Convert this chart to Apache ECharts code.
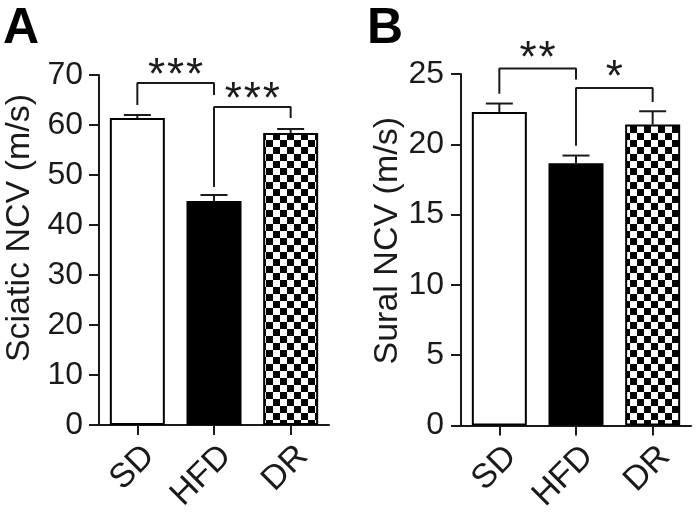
<!DOCTYPE html>
<html><head><meta charset="utf-8">
<script src="https://cdn.jsdelivr.net/npm/echarts@6/dist/echarts.min.js"></script>
<style>html,body{margin:0;padding:0;background:#fff}#c{width:697px;height:526px}</style>
</head><body><div id="c"></div>
<script>
const categories = ['SD', 'HFD', 'DR'];
const sciaticMean = [61.4, 44.8, 58.4];
const sciaticSEM = [0.6, 1.2, 0.8];
const suralMean = [22.3, 18.65, 21.4];
const suralSEM = [0.6, 0.55, 0.95];
const sciaticTicks = [0, 10, 20, 30, 40, 50, 60, 70];
const suralTicks = [0, 5, 10, 15, 20, 25];
// [fromIndex, toIndex, bracketTop, leftLegBottom, rightLegBottom, stars]
const sciaticSig = [[0, 1, 68.4, 64.0, 66.0, '***'], [1, 2, 63.6, 47.6, 61.4, '***']];
const suralSig = [[0, 1, 25.4, 23.6, 24.6, '**'], [1, 2, 24.0, 19.9, 23.0, '*']];
const panelLetters = ['A', 'B'];
const yNames = ['Sciatic NCV (m/s)', 'Sural NCV (m/s)'];

const FONT = 'Liberation Sans, Arial, Helvetica, sans-serif';
const INK = '#1a1a1a';

// checkerboard pattern
const pc = document.createElement('canvas');
const cell = 7;
pc.width = cell * 2; pc.height = cell * 2;
const pctx = pc.getContext('2d');
pctx.fillStyle = '#fff'; pctx.fillRect(0, 0, pc.width, pc.height);
pctx.fillStyle = '#000';
pctx.fillRect(0, 0, cell, cell);
pctx.fillRect(cell, cell, cell, cell);
const checker = { image: pc, repeat: 'repeat' };
const barFills = ['#ffffff', '#000000', checker];

const chart = echarts.init(document.getElementById('c'), null, { renderer: 'canvas' });

function yAxisOf(idx, ticks, name, nameGap, margin, shiftUp) {
  return {
    type: 'value', gridIndex: idx, min: ticks[0], max: ticks[ticks.length - 1],
    interval: ticks[1] - ticks[0],
    axisLine: { show: true, lineStyle: { color: INK, width: 2 } },
    axisTick: { show: true, length: 10, lineStyle: { color: INK, width: 2 } },
    axisLabel: { fontSize: 32, color: INK, fontFamily: FONT, margin: margin },
    splitLine: { show: false },
    name: name, nameLocation: 'middle', nameGap: nameGap,
    nameTextStyle: { fontSize: 34, color: INK, fontFamily: FONT, padding: [0, 0, 0, shiftUp * 2] }
  };
}
function xAxisOf(idx) {
  return {
    type: 'category', gridIndex: idx, data: categories,
    axisLine: { show: true, lineStyle: { color: INK, width: 2 } },
    axisTick: { show: true, alignWithLabel: true, length: 10, lineStyle: { color: INK, width: 2 } },
    axisLabel: { rotate: 45, fontSize: 34, color: INK, fontFamily: FONT, margin: 14, interval: 0, verticalAlign: 'top' }
  };
}
function barSeries(idx, means) {
  return {
    type: 'bar', xAxisIndex: idx, yAxisIndex: idx, barWidth: 55,
    data: means.map((v, i) => ({ value: v, itemStyle: { color: barFills[i] } })),
    itemStyle: { borderColor: '#000', borderWidth: 2 }, z: 2
  };
}
function errSeries(idx, means, sems) {
  return {
    type: 'custom', xAxisIndex: idx, yAxisIndex: idx, z: 3,
    data: means.map((m, i) => [i, m, sems[i]]),
    renderItem: function (params, api) {
      const i = api.value(0), m = api.value(1), e = api.value(2);
      const b = api.coord([i, m]); const t = api.coord([i, m + e]);
      const st = { stroke: INK, lineWidth: 2 };
      return { type: 'group', children: [
        { type: 'line', shape: { x1: b[0], y1: b[1], x2: t[0], y2: t[1] }, style: st },
        { type: 'line', shape: { x1: t[0] - 13.5, y1: t[1], x2: t[0] + 13.5, y2: t[1] }, style: st }
      ] };
    }
  };
}
function bracketSeries(idx, sig) {
  return sig.map(s => ({
    type: 'line', xAxisIndex: idx, yAxisIndex: idx, symbol: 'none', clip: false, z: 4,
    lineStyle: { color: INK, width: 2 }, animation: false,
    data: [[s[0], s[3]], [s[0], s[2]], [s[1], s[2]], [s[1], s[4]]]
  }));
}

const option = {
  animation: false,
  backgroundColor: '#fff',
  title: panelLetters.map((t, k) => ({
    text: t, left: k === 0 ? -2 : 362, top: -1,
    textStyle: { fontSize: 50, fontWeight: 'bold', color: '#000', fontFamily: FONT }
  })),
  grid: [
    { left: 99, top: 75, width: 230, height: 350, containLabel: false, outerBoundsMode: 'none' },
    { left: 461, top: 74, width: 230, height: 351.5, containLabel: false, outerBoundsMode: 'none' }
  ],
  xAxis: [xAxisOf(0), xAxisOf(1)],
  yAxis: [yAxisOf(0, sciaticTicks, yNames[0], 62, 16, 22), yAxisOf(1, suralTicks, yNames[1], 54, 17, 9)],
  series: [
    barSeries(0, sciaticMean), errSeries(0, sciaticMean, sciaticSEM),
    barSeries(1, suralMean), errSeries(1, suralMean, suralSEM),
    ...bracketSeries(0, sciaticSig), ...bracketSeries(1, suralSig)
  ]
};
chart.setOption(option);

// significance stars positioned from axis coordinates
const gfx = [];
[[0, sciaticSig, 6.5], [1, suralSig, 9]].forEach(([k, sig, lift]) => {
  sig.forEach(s => {
    const a = chart.convertToPixel({ xAxisIndex: k, yAxisIndex: k }, [s[0], s[2]]);
    const b = chart.convertToPixel({ xAxisIndex: k, yAxisIndex: k }, [s[1], s[2]]);
    const cx = (a[0] + b[0]) / 2, cy = a[1] - lift;
    const n = s[5].length, sp = 19;
    for (let j = 0; j < n; j++) {
      gfx.push({
        type: 'text', x: cx + (j - (n - 1) / 2) * sp, y: cy,
        style: { text: '*', fontSize: 44, fontFamily: FONT, fill: INK, align: 'center', verticalAlign: 'middle' }
      });
    }
  });
});
chart.setOption({ graphic: gfx });
</script>
</body></html>
